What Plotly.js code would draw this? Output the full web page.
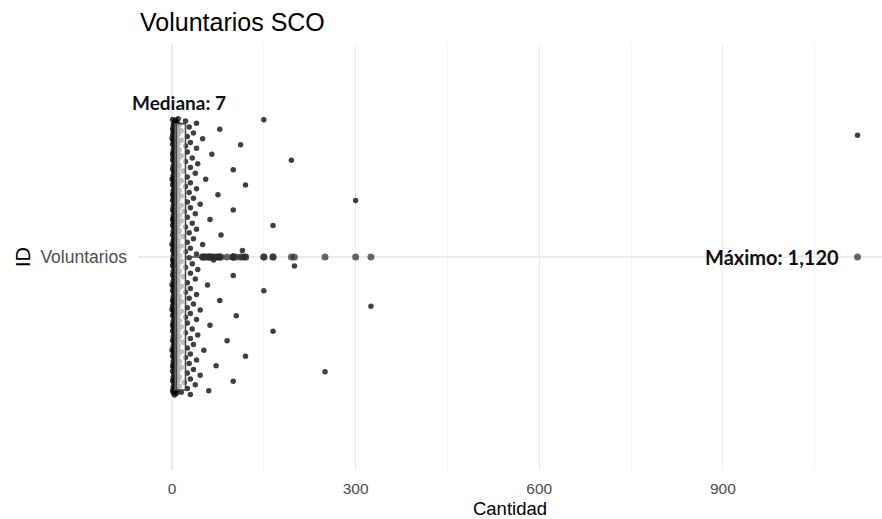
<!DOCTYPE html>
<html><head><meta charset="utf-8">
<script src="https://cdn.plot.ly/plotly-3.0.1.min.js"></script>
<style>html,body{margin:0;padding:0;background:#fff}</style>
</head><body><div id="chart" style="width:882px;height:519px"></div>
<script>
// ---- data ----
const categoria = 'Voluntarios';
// dense part of the distribution: value and number of records with that value
const valoresBase  = [0,1,2,3,4,5,6,7,8,9,10,12,15,18,20,22,25,28,30,33,35,38,40,42,46];
const frecuencias  = [6,30,34,30,28,40,22,25,20,10,28,14,16,4,2,11,12,6,12,4,6,4,8,3,3];
// sparse high values
const valoresAltos = [50,50,52,55,58,60,62,62,65,68,72,75,78,78,80,90,100,100,100,100,105,112,115,120,120,150,150,165,165,195,200,250,300,325,1120];
const ticksX = [0,300,600,900];

// ---- build the full series ----
const valores = [];
valoresBase.forEach((v,i)=>{ for(let k=0;k<frecuencias[i];k++) valores.push(v); });
valoresAltos.forEach(v=>valores.push(v));

const ordenados = valores.slice().sort((a,b)=>a-b);
const n = ordenados.length;
const mediana = n%2 ? ordenados[(n-1)/2] : (ordenados[n/2-1]+ordenados[n/2])/2;
const maximo = ordenados[n-1];

// deterministic vertical jitter (golden-ratio sequence), spread ±0.39 around the category
const J = 0.39;
const jitterY = valores.map((v,i)=>{ const u=(i*0.6180339887+0.31)%1; return 1+(u-0.5)*2*J; });

const font = 'Liberation Sans, Arial, sans-serif';

const traces = [
  {
    type:'scatter', mode:'markers', x: valores, y: jitterY,
    marker:{size:5.5, color:'rgba(0,0,0,0.75)', line:{width:0}},
    hoverinfo:'x', showlegend:false
  },
  {
    type:'box', x: valores, y0: 1, orientation:'h', yaxis:'y2',
    width: 0.75, boxpoints:'outliers', jitter:0, pointpos:0,
    whiskerwidth:0,
    line:{color:'#444444', width:1.5},
    fillcolor:'rgba(255,255,255,0.66)',
    marker:{size:7, color:'rgba(45,45,45,0.72)', line:{width:0}},
    hoverinfo:'x', showlegend:false
  }
];

const layout = {
  width:882, height:519,
  margin:{l:138, r:0, t:44, b:49},
  paper_bgcolor:'#ffffff', plot_bgcolor:'#ffffff',
  showlegend:false,
  font:{family:font, color:'#000'},
  title:{text:'Voluntarios SCO', x:140/882, xanchor:'left', xref:'container',
         y:1-22/519, yanchor:'middle', yref:'container',
         font:{family:font, size:25, color:'#000'}},
  xaxis:{
    range:[-55.6,1160], tickvals:ticksX, ticktext:ticksX.map(String),
    showgrid:true, gridcolor:'#ebebeb', gridwidth:1.1,
    minor:{tickvals:[150,450,750,1050], showgrid:true, gridcolor:'#f0f0f0', gridwidth:0.7},
    zeroline:false, showline:false, ticks:'',
    tickfont:{family:font, size:15.5, color:'#4d4d4d'},
    ticklabelstandoff:7, automargin:false,
    title:{text:'Cantidad', font:{family:font, size:18.5, color:'#000'}, standoff:7}
  },
  yaxis:{
    range:[0.4,1.6], tickvals:[1], ticktext:[categoria],
    showgrid:true, gridcolor:'#ebebeb', gridwidth:1.1,
    zeroline:false, showline:false, ticks:'',
    tickfont:{family:font, size:17.5, color:'#4d4d4d'},
    ticklabelstandoff:10, automargin:false,
    title:{text:'ID', font:{family:font, size:20, color:'#000'}, standoff:4}
  },
  yaxis2:{overlaying:'y', range:[0.4,1.6], visible:false, anchor:'x'},
  annotations:[
    {x:mediana, y:1.435, xref:'x', yref:'y', text:'Mediana: '+mediana, showarrow:false,
     xanchor:'center', yanchor:'middle', xshift:3,
     font:{family:'Lato, Liberation Sans, sans-serif', size:19, weight:700, color:'#111'}},
    {x:maximo, y:1, xref:'x', yref:'y', text:'Máximo: '+maximo.toLocaleString('en-US'), showarrow:false,
     xanchor:'right', yanchor:'middle', xshift:-17,
     font:{family:'Lato, Liberation Sans, sans-serif', size:20, weight:700, color:'#111'}}
  ]
};

Plotly.newPlot('chart', traces, layout, {displayModeBar:false, staticPlot:true});
</script>
</body></html>
